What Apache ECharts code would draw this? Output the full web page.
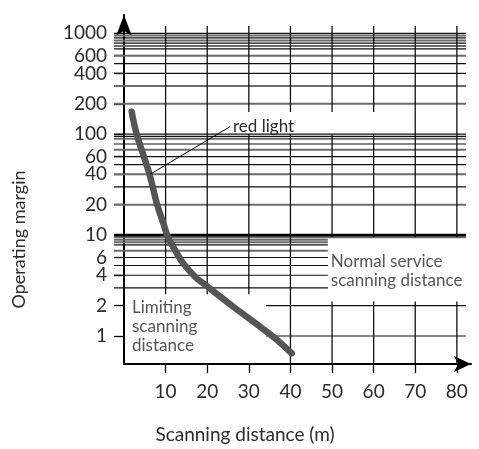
<!DOCTYPE html>
<html><head><meta charset="utf-8">
<script src="https://cdn.jsdelivr.net/npm/echarts@6/dist/echarts.min.js"></script>
<style>html,body{margin:0;padding:0;background:#fff}#c{width:479px;height:449px}</style>
</head><body><div id="c"></div>
<script>
// ---- data ----
const xTickValues = [10, 20, 30, 40, 50, 60, 70, 80];
const yTickValues = [1, 2, 4, 6, 10, 20, 40, 60, 100, 200, 400, 600, 1000];

// operating margin curve (red light)
const curveDistance = [1.85, 3.05, 6.1, 7.9, 9.45, 10.65, 12.26, 14.25, 17.07, 19.06, 26.27, 32.69, 36.3, 40.31];
const curveMargin   = [167, 100, 40.5, 20.5, 13.1, 9.36, 7.11, 5.25, 3.87, 3.33, 1.95, 1.24, 0.95, 0.674];

// leader line of the "red light" label
const leaderDistance = [6.37, 25.48];
const leaderMargin = [40.3, 118.7];

// horizontal grid lines (margin values)
const hGridBlack = [1000, 900, 800, 700, 500, 400, 100, 95, 80, 60, 50, 30, 8, 6, 5, 4, 3, 2, 1];
const hGridGray  = [950, 850, 750, 600, 300, 200, 90, 70, 40, 20, 9.5, 9, 8.5, 7];
const hGridBold  = [10];

// vertical grid segments: [distance, from margin, to margin]
const vGrid = [
  [10, 2.6, 1181], [20, 2.6, 1181],
  [30, 2.6, 100], [30, 166, 1181],
  [40, 0.528, 100], [40, 166, 1181],
  [50, 0.528, 2.2], [50, 9.5, 100], [50, 166, 1181],
  [60, 0.528, 2.2], [60, 9.5, 100], [60, 166, 1181],
  [70, 0.528, 2.2], [70, 9.5, 1181],
  [80, 0.528, 2.2], [80, 9.5, 1181]
];

// annotations
const annoText = ['Normal service\nscanning distance', 'Limiting\nscanning\ndistance'];
const annoDistance = [49.7, 1.92];
const annoMargin = [4.41, 1.23];

const X_MIN = 0, X_MAX = 83.4, Y_MIN = 0.528, Y_MAX = 1518;
const GRID_RIGHT_X = 82.2;      // right end of horizontal lines
const NORMAL_END_X = 49.0;      // short lines in normal-service zone end here
const LOW_START_X = 34.1;       // lines at 2 and 1 start here

// ---- build ----
const FONT = 'Lato';
const TXT = '#2b2b2b';

function hItems(list, cls) {
  return list.map(v => {
    let x0, x1;
    if (v >= 9.5) { x0 = 0; x1 = GRID_RIGHT_X; }
    else if (v >= 3) { x0 = 0; x1 = NORMAL_END_X; }
    else { x0 = LOW_START_X; x1 = GRID_RIGHT_X; }
    return [x0, v, x1, cls];
  });
}
const hData = [].concat(hItems(hGridGray, 1), hItems(hGridBlack, 0), hItems(hGridBold, 2));

const chart = echarts.init(document.getElementById('c'), null, {renderer: 'canvas'});
chart.setOption({
  animation: false,
  backgroundColor: '#fff',
  grid: {left: 124, top: 15, width: 347, height: 349},
  xAxis: {
    type: 'value', min: X_MIN, max: X_MAX,
    axisLine: {show: true, lineStyle: {color: '#000', width: 2}, symbol: ['none', 'arrow'], symbolSize: [12, 17]},
    axisTick: {show: true, customValues: xTickValues, length: 9, lineStyle: {color: '#000', width: 1.3}},
    axisLabel: {customValues: xTickValues, margin: 18, fontSize: 19, fontFamily: FONT, color: TXT,
      formatter: v => String(v)},
    splitLine: {show: false},
    name: 'Scanning distance (m)', nameLocation: 'middle', nameGap: 61,
    nameTextStyle: {fontSize: 19, fontFamily: FONT, color: TXT, padding: [0, 105, 0, 0]}
  },
  yAxis: {
    type: 'log', logBase: 10, min: Y_MIN, max: Y_MAX,
    axisLine: {show: true, lineStyle: {color: '#000', width: 2}, symbol: ['none', 'arrow'], symbolSize: [12, 21]},
    axisTick: {show: true, customValues: yTickValues, length: 10, lineStyle: {color: '#000', width: 1.3}},
    axisLabel: {customValues: yTickValues, margin: 17, fontSize: 19, fontFamily: FONT, color: TXT,
      formatter: v => String(v)},
    splitLine: {show: false}, minorTick: {show: false}, minorSplitLine: {show: false},
    name: 'Operating margin', nameLocation: 'middle', nameGap: 96, nameRotate: 90,
    nameTextStyle: {fontSize: 18, fontFamily: FONT, color: TXT, padding: [0, 100, 0, 0]}
  },
  series: [
    {
      type: 'custom', name: 'hgrid', silent: true, z: 1, clip: false,
      encode: {x: [0, 2], y: 1},
      data: hData,
      renderItem(params, api) {
        const x0 = api.value(0), v = api.value(1), x1 = api.value(2), cls = api.value(3);
        const p0 = api.coord([x0, v]);
        const p1 = api.coord([x1, v]);
        if (x0 === 0) p0[0] -= 10;
        const style = cls === 1 ? {stroke: '#6b6b6b', lineWidth: 2}
                    : cls === 2 ? {stroke: '#000', lineWidth: 2.6}
                    : {stroke: '#111', lineWidth: 1.2};
        return {type: 'line', shape: {x1: p0[0], y1: p0[1], x2: p1[0], y2: p1[1]}, style};
      }
    },
    {
      type: 'custom', name: 'vgrid', silent: true, z: 1, clip: false,
      encode: {x: 0, y: [1, 2]},
      data: vGrid,
      renderItem(params, api) {
        const x = api.value(0);
        const p0 = api.coord([x, api.value(1)]);
        const p1 = api.coord([x, api.value(2)]);
        return {type: 'line', shape: {x1: p0[0], y1: p0[1], x2: p1[0], y2: p1[1]}, style: {stroke: '#111', lineWidth: 1.3}};
      }
    },
    {
      type: 'line', name: 'red light', z: 5,
      data: curveDistance.map((d, i) => [d, curveMargin[i]]),
      smooth: 0.4, symbol: 'none', showSymbol: false,
      lineStyle: {color: '#555', width: 6.5, cap: 'round', join: 'round'}
    },
    {
      type: 'line', name: 'leader', z: 6,
      data: leaderDistance.map((d, i) => [d, leaderMargin[i]]),
      symbol: 'none', showSymbol: false,
      lineStyle: {color: '#000', width: 1},
      endLabel: {show: true, formatter: 'red light', distance: 3, fontSize: 17, fontFamily: FONT, color: TXT}
    },
    {
      type: 'scatter', name: 'annotations', z: 6, symbolSize: 0, silent: true,
      data: annoDistance.map((d, i) => ({value: [d, annoMargin[i]], name: annoText[i]})),
      label: {show: true, position: 'right', distance: 0, formatter: p => p.name,
        fontSize: 17, lineHeight: 19, fontFamily: FONT, color: TXT, align: 'left'}
    }
  ]
});
</script>
</body></html>
